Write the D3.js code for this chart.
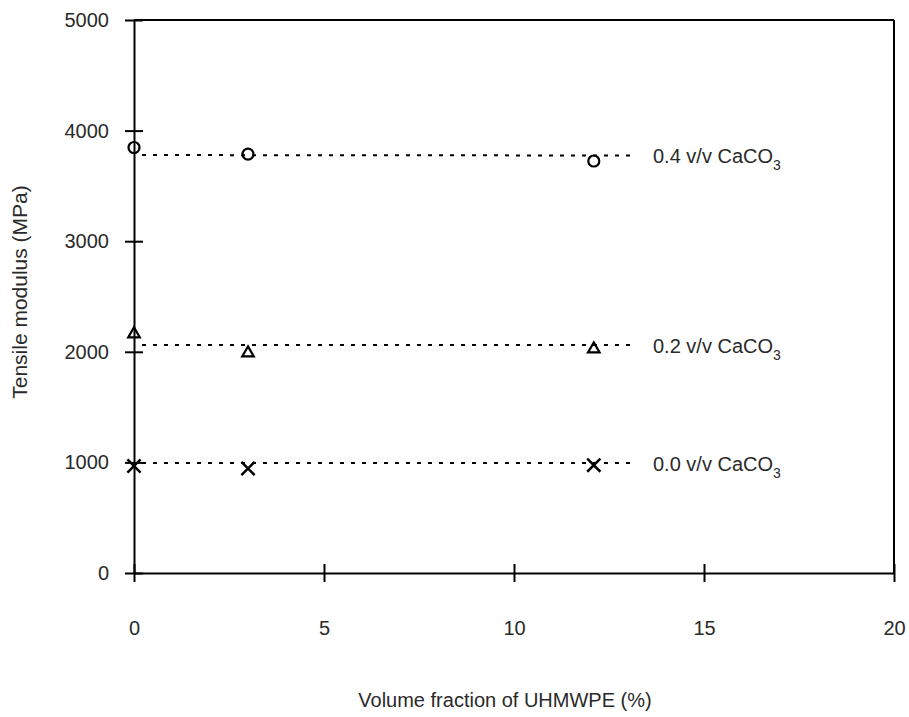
<!DOCTYPE html>
<html>
<head>
<meta charset="utf-8">
<script src="https://cdn.jsdelivr.net/npm/d3@7"></script>
<style>
  body { margin: 0; background: #fff; }
  text { font-family: "Liberation Sans", Arial, sans-serif; fill: #2a2a2a; }
</style>
</head>
<body>
<div id="main"></div>
<script>
/*********************************************************
 * Data
 *********************************************************/
const seriesNames = ['0.4', '0.2', '0.0'];
const seriesSymbols = ['circle', 'triangle', 'cross'];
const uhmwpe = [0, 3, 12.1];
const modulus04 = [3847, 3788, 3725];
const modulus02 = [2161, 1989, 2025];
const modulus00 = [967, 945, 975];
// dashed trend lines: [x start, x end], level at start / end
const fitX = [0, 13.1];
const fit04 = [3779, 3775];
const fit02 = [2061, 2061];
const fit00 = [994, 994];
const xTicks = [0, 5, 10, 15, 20];
const yTicks = [0, 1000, 2000, 3000, 4000, 5000];

/*********************************************************
 * Layout
 *********************************************************/
const svgWidth = 909;
const svgHeight = 717;
const margin = { t: 20, r: 15, b: 144, l: 134 };
const width = svgWidth - margin.l - margin.r;
const height = svgHeight - margin.t - margin.b;
const tickHalf = 9;

const svg = d3.select('#main')
  .append('svg')
  .attr('width', svgWidth)
  .attr('height', svgHeight);

const plot = svg.append('g')
  .attr('transform', `translate(${margin.l}, ${margin.t})`);

const x = d3.scaleLinear().domain([0, 20]).range([0, width]);
const y = d3.scaleLinear().domain([0, 5000]).range([height, 0]);

/*********************************************************
 * Frame + axes
 *********************************************************/
const lineStyle = sel => sel.attr('stroke', '#000').attr('stroke-width', 2);

// top and right edges
plot.append('line').call(lineStyle)
  .attr('x1', 0).attr('x2', width).attr('y1', 0).attr('y2', 0);
plot.append('line').call(lineStyle)
  .attr('x1', width).attr('x2', width).attr('y1', 0).attr('y2', height);

const yAxis = d3.axisLeft(y).tickValues(yTicks).tickSize(0).tickPadding(25)
  .tickFormat(d3.format('d'));
const gY = plot.append('g').call(yAxis);
gY.select('.domain').call(lineStyle);
gY.selectAll('.tick line').call(lineStyle).attr('x1', -tickHalf).attr('x2', tickHalf);
gY.selectAll('.tick text').attr('font-size', 20).attr('font-family', null);

const xAxis = d3.axisBottom(x).tickValues(xTicks).tickSize(0).tickPadding(48);
const gX = plot.append('g').attr('transform', `translate(0, ${height})`).call(xAxis);
gX.select('.domain').call(lineStyle);
gX.selectAll('.tick line').call(lineStyle).attr('y1', -tickHalf).attr('y2', tickHalf);
gX.selectAll('.tick text').attr('font-size', 20).attr('font-family', null);

// axis titles
svg.append('text')
  .attr('x', 505).attr('y', 707)
  .attr('text-anchor', 'middle')
  .attr('font-size', 20)
  .text('Volume fraction of UHMWPE (%)');

svg.append('text')
  .attr('transform', 'translate(27, 292) rotate(-90)')
  .attr('text-anchor', 'middle')
  .attr('font-size', 21)
  .text('Tensile modulus (MPa)');

/*********************************************************
 * Series
 *********************************************************/
const series = [
  { name: seriesNames[0], symbol: seriesSymbols[0], values: modulus04, fit: fit04 },
  { name: seriesNames[1], symbol: seriesSymbols[1], values: modulus02, fit: fit02 },
  { name: seriesNames[2], symbol: seriesSymbols[2], values: modulus00, fit: fit00 }
];

const symbolPath = {
  circle: d3.symbol().type(d3.symbolCircle).size(95)(),
  triangle: d3.symbol().type(d3.symbolTriangle).size(58)(),
  cross: d3.symbol().type(d3.symbolX).size(115)()
};

const groups = plot.selectAll('.series')
  .data(series)
  .enter().append('g')
  .attr('class', 'series');

groups.append('line')
  .attr('x1', x(fitX[0])).attr('x2', x(fitX[1]))
  .attr('y1', d => y(d.fit[0])).attr('y2', d => y(d.fit[1]))
  .attr('stroke', '#000')
  .attr('stroke-width', 2)
  .attr('stroke-dasharray', '4,7')
  .attr('stroke-dashoffset', 3);

groups.selectAll('.pt')
  .data(d => d.values.map((v, i) => ({ x: uhmwpe[i], y: v, symbol: d.symbol })))
  .enter().append('path')
  .attr('class', 'pt')
  .attr('transform', d => `translate(${x(d.x)}, ${y(d.y)})`)
  .attr('d', d => symbolPath[d.symbol])
  .attr('fill', 'none')
  .attr('stroke', '#000')
  .attr('stroke-width', d => d.symbol === 'cross' ? 2.5 : 2.2);

// labels to the right of each line
const labels = groups.append('text')
  .attr('x', 519)
  .attr('y', d => y(d.fit[1]) + 8)
  .attr('font-size', 20);
labels.append('tspan').text(d => `${d.name} v/v CaCO`);
labels.append('tspan').attr('dy', 7).attr('font-size', 14).text('3');
</script>
</body>
</html>
